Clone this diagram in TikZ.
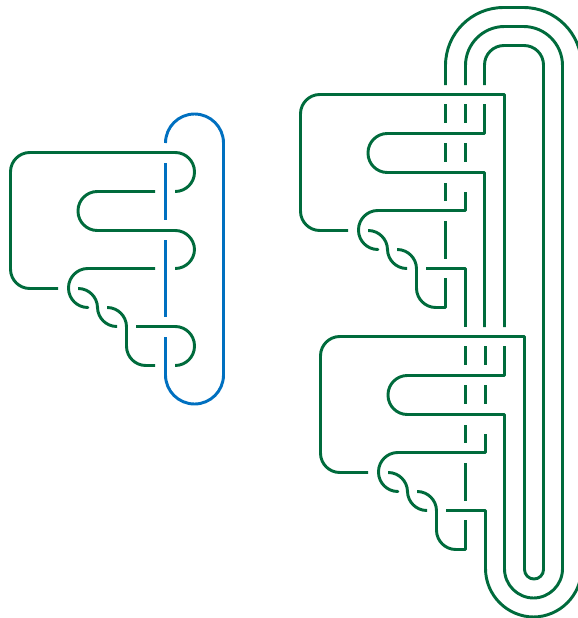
\documentclass[tikz,border=0pt]{standalone}
\definecolor{strandgreen}{RGB}{0,107,60}
\definecolor{strandblue}{RGB}{0,112,192}
\tikzset{
  strand/.style={line width=2.2pt, line join=round, rounded corners=14.5pt},
}
\begin{document}
\begin{tikzpicture}[x=0.75pt, y=-0.75pt]
  \useasboundingbox (0,0) rectangle (578,618);
  % left: blue loop
  \begin{scope}[strandblue]
    \draw[strand, rounded corners=21.75pt] (165.5,143) -- (165.5,114) -- (223.5,114) -- (223.5,404) -- (165.5,404) -- (165.5,337);
    \draw[strand] (165.5,163) -- (165.5,220);
    \draw[strand] (165.5,240) -- (165.5,317);
  \end{scope}
  % left: green part
  \begin{scope}[strandgreen]
    \draw[strand] (58,288.5) -- (10.5,288.5) -- (10.5,152.5) -- (194.5,152.5) -- (194.5,191.5) -- (175,191.5);
    \draw[strand] (155,191.5) -- (78,191.5) -- (78,230.5) -- (194.5,230.5) -- (194.5,268.5) -- (175,268.5);
    \draw[strand] (155,268.5) -- (68.5,268.5) -- (68.5,307.5) -- (87,307.5);
    \draw[strand] (78,288.5) -- (97.5,288.5) -- (97.5,326.5) -- (117,326.5);
    \draw[strand] (107,307.5) -- (126.5,307.5) -- (126.5,365.5) -- (155,365.5);
    \draw[strand] (136,326.5) -- (194.5,326.5) -- (194.5,365.5) -- (175,365.5);
  \end{scope}
  % right: two equal pieces
  \begin{scope}[strandgreen]
    \foreach \dx/\dy in {290/-58,310/184}{
      \begin{scope}[shift={(\dx,\dy)}]
        \draw[strand] (58,288.5) -- (10.5,288.5) -- (10.5,152.5) [sharp corners] -- (214.5,152.5) -- (214.5,385);
        \draw[strand, sharp corners] (194.5,162) -- (194.5,191.5) [rounded corners=14.5pt] -- (78,191.5) -- (78,230.5) [sharp corners] -- (194.5,230.5) -- (194.5,385);
        \draw[strand, sharp corners] (175.5,250) -- (175.5,268.5) [rounded corners=14.5pt] -- (68.5,268.5) -- (68.5,307.5) -- (87,307.5);
        \draw[strand] (78,288.5) -- (97.5,288.5) -- (97.5,326.5) -- (117,326.5);
        \draw[strand] (107,307.5) -- (126.5,307.5) -- (126.5,365.5) [sharp corners] -- (155.5,365.5) -- (155.5,336);
        \draw[strand, sharp corners] (136,326.5) -- (175.5,326.5) -- (175.5,385);
        \foreach \a/\b in {162/181,201/220,241/259,279/317}{
          \draw[strand] (155.5,\a) -- (155.5,\b);
        }
        \foreach \a/\b in {162/181,201/220}{
          \draw[strand] (175.5,\a) -- (175.5,\b);
        }
      \end{scope}
    }
    % long loops, top down the right side and round the bottom
    \foreach \l/\r/\t/\rad/\e/\b/\radb in {445.5/581.5/7.5/43.5pt/485.5/617/36.4pt,465.5/562.5/26.5/29.25pt/504.5/598/21.9pt,484.5/543.5/45.5/14.6pt/524.5/579/7.1pt}{
      \draw[strand, rounded corners=\rad] (\l,85) -- (\l,\t) -- (\r,\t) [rounded corners=\radb] -- (\r,\b) -- (\e,\b) -- (\e,560);
    }
  \end{scope}
\end{tikzpicture}
\end{document}
